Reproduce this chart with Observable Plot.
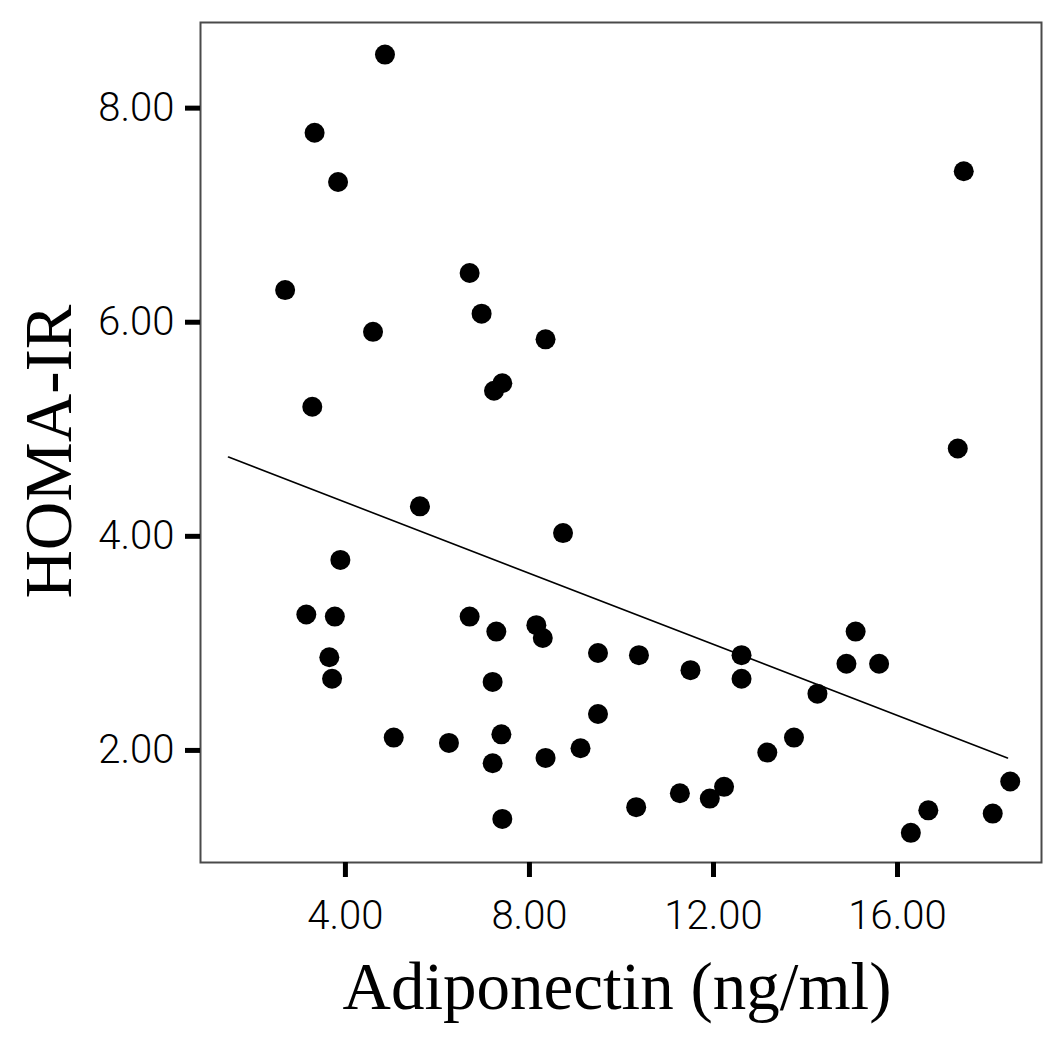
<!DOCTYPE html>
<html>
<head>
<meta charset="utf-8">
<script src="https://cdn.jsdelivr.net/npm/d3@7"></script>
<script src="https://cdn.jsdelivr.net/npm/@observablehq/plot@0.6"></script>
<style>
  html, body { margin: 0; padding: 0; background: #fff; }
  #chart svg { display: block; }
</style>
</head>
<body>
<div id="chart"></div>
<script>
// Adiponectin (ng/ml) values of each subject
const adiponectin = [
  4.86, 3.33, 3.84, 2.69, 4.60, 3.28, 5.62, 3.89, 3.15, 3.77, 3.65, 3.71, 5.05,
  6.70, 6.96, 8.35, 7.23, 7.41, 8.73, 6.70, 7.28, 8.15, 8.29, 9.49, 10.38, 11.50,
  7.20, 9.49, 6.25, 7.39, 7.20, 8.35, 9.11, 11.27, 10.32, 7.41,
  17.44, 17.31, 15.09, 12.61, 14.89, 15.60, 12.61, 14.26, 13.75, 13.17, 12.23,
  11.92, 18.45, 16.67, 18.07, 16.29
];
// HOMA-IR values, same order
const homaIR = [
  8.50, 7.77, 7.31, 6.30, 5.91, 5.21, 4.28, 3.78, 3.27, 3.25, 2.87, 2.67, 2.12,
  6.46, 6.08, 5.84, 5.36, 5.43, 4.03, 3.25, 3.11, 3.17, 3.05, 2.91, 2.89, 2.75,
  2.64, 2.34, 2.07, 2.15, 1.88, 1.93, 2.02, 1.60, 1.47, 1.36,
  7.41, 4.82, 3.11, 2.89, 2.81, 2.81, 2.67, 2.53, 2.12, 1.98, 1.66,
  1.55, 1.71, 1.44, 1.41, 1.23
];
// Fitted regression line end points
const fitX = [1.46, 18.39];
const fitY = [4.74, 1.93];

const xTicks = [4, 8, 12, 16];
const yTicks = [2, 4, 6, 8];
const xTitle = "Adiponectin (ng/ml)";
const yTitle = "HOMA-IR";

const points = adiponectin.map((a, i) => ({x: a, y: homaIR[i]}));
const fit = fitX.map((a, i) => ({x: a, y: fitY[i]}));

const tickFont = "Roboto, 'Liberation Sans', sans-serif";
const titleFont = "'Liberation Serif', 'DejaVu Serif', serif";

const chart = Plot.plot({
  width: 1050,
  height: 1040,
  marginLeft: 200,
  marginRight: 9,
  marginTop: 22,
  marginBottom: 178,
  style: {background: "#fff", color: "#000"},
  x: {domain: [0.85, 19.13], label: null},
  y: {domain: [0.953, 8.80], label: null},
  marks: [
    Plot.frame({stroke: "#4a4a4a", strokeWidth: 2}),
    Plot.axisY({
      ticks: yTicks, tickFormat: d => d.toFixed(2),
      tickSize: 15, tickPadding: 11, strokeWidth: 5, stroke: "#000",
      fontSize: 40, fontFamily: tickFont, fontWeight: 300, fill: "#000", label: null
    }),
    Plot.axisX({
      ticks: xTicks, tickFormat: d => d.toFixed(2),
      tickSize: 15, tickPadding: 23, strokeWidth: 5, stroke: "#000",
      fontSize: 40, fontFamily: tickFont, fontWeight: 300, fill: "#000", label: null
    }),
    Plot.line(fit, {x: "x", y: "y", stroke: "#000", strokeWidth: 1.6}),
    Plot.dot(points, {x: "x", y: "y", r: 10, fill: "#000", stroke: "none"}),
    Plot.text([yTitle], {
      text: d => d, frameAnchor: "left", rotate: -90,
      textAnchor: "middle", lineAnchor: "middle",
      dx: -151, dy: 9, fontSize: 67, fontFamily: titleFont, fill: "#000"
    }),
    Plot.text([xTitle], {
      text: d => d, frameAnchor: "bottom",
      textAnchor: "middle", lineAnchor: "middle",
      dx: -4, dy: 125, fontSize: 67, fontFamily: titleFont, fill: "#000"
    })
  ]
});
document.getElementById("chart").appendChild(chart);
</script>
</body>
</html>
